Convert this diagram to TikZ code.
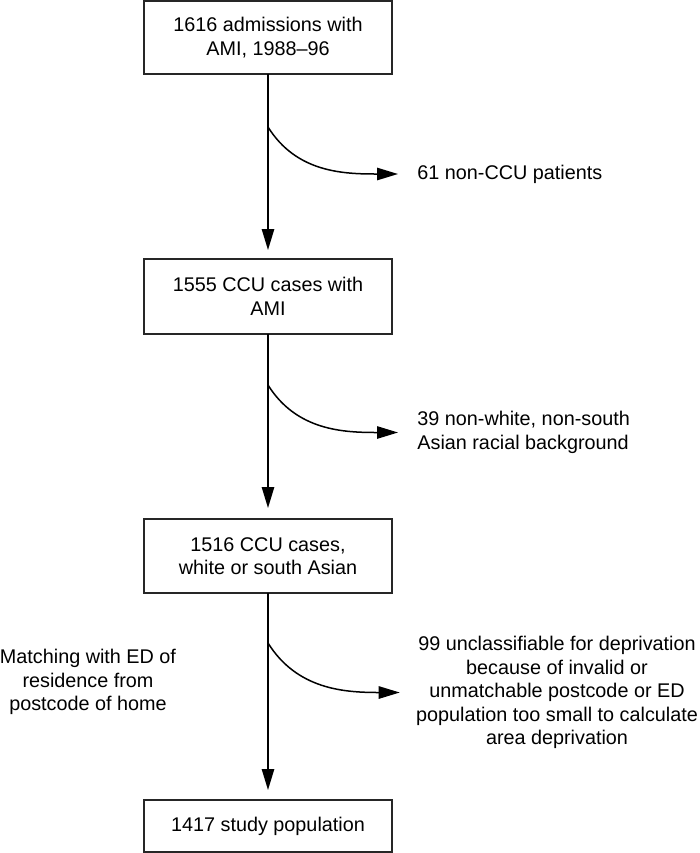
\documentclass[tikz,border=0pt]{standalone}
\usepackage{fontspec}
\setmainfont{Liberation Sans}
\usetikzlibrary{arrows.meta}
\begin{document}
\begin{tikzpicture}[x=0.5pt,y=-0.5pt,
  every node/.style={font=\fontsize{9.9pt}{11.7pt}\selectfont, text=black},
  box/.style={draw=black!85, line width=0.55pt, minimum width=124pt, inner sep=0pt, outer sep=0pt, align=center},
  side/.style={inner sep=0pt, inner xsep=9.5pt},
  flow/.style={line width=0.75pt, -{Triangle[length=10.5pt,width=6.2pt]}},
]
\useasboundingbox (0,0) rectangle (700,853);
% boxes
\node[box, minimum height=36.5pt] (b1) at (268,37.5) {1616 admissions with\\AMI, 1988--96};
\node[box, minimum height=37.5pt] (b2) at (268,296.5) {1555 CCU cases with\\AMI};
\node[box, minimum height=37pt] (b3) at (268,556) {1516 CCU cases,\\white or south Asian};
\node[box, minimum height=26pt] (b4) at (268,826) {1417 study population};
% branch points
\coordinate (s1) at (268,127);
\coordinate (s2) at (268,385);
\coordinate (s3) at (268,643);
% side texts
\node[side, anchor=west] (e1) at (398,174) {61 non-CCU patients};
\node[side, anchor=west, align=left] (e2) at (398,432.5) {39 non-white, non-south\\Asian racial background};
\node[inner sep=0pt, inner xsep=8pt, align=center] (e3) at (557,692.5) {99 unclassifiable for deprivation\\because of invalid or\\unmatchable postcode or ED\\population too small to calculate\\area deprivation};
\node[inner sep=0pt, align=center] (m) at (88,682) {Matching with ED of\\residence from\\postcode of home};
% main arrows
\draw[flow, shorten >=4.5pt] (b1.south) -- (b2.north);
\draw[flow, shorten >=5.5pt] (b2.south) -- (b3.north);
\draw[flow, shorten >=5pt] (b3.south) -- (b4.north);
% exclusion arrows
\draw[flow] (s1) to[out=-58,in=180] (e1.west);
\draw[flow] (s2) to[out=-58,in=180] (e2.west);
\draw[flow] (s3) to[out=-58,in=180] (e3.west);
\end{tikzpicture}
\end{document}
